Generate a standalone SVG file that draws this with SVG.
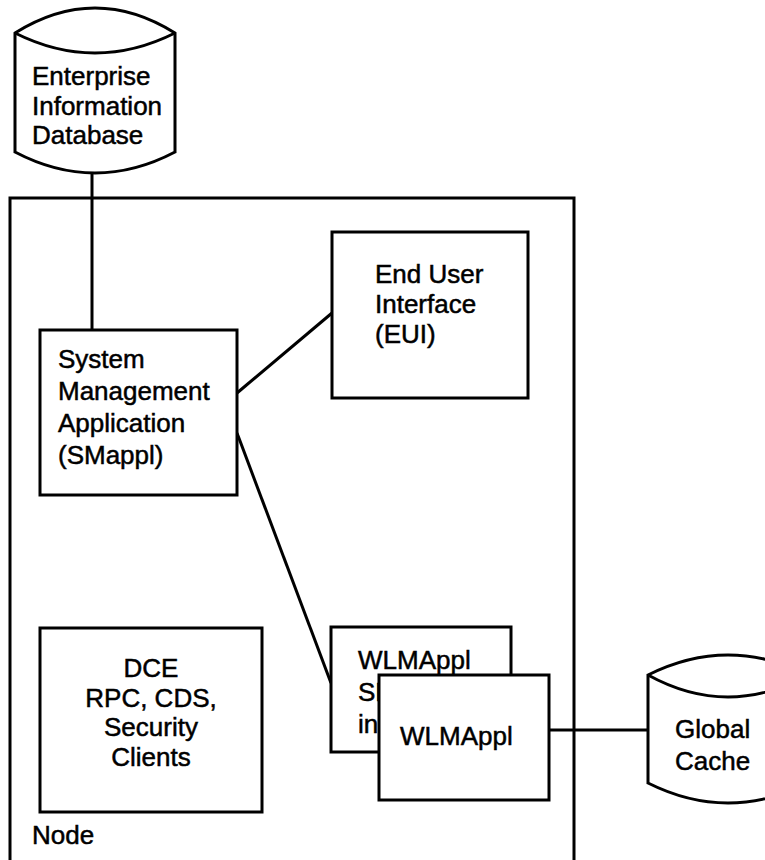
<svg xmlns="http://www.w3.org/2000/svg" width="765" height="860" viewBox="0 0 765 860">
  <style>
    .shape { fill: #ffffff; stroke: #000000; stroke-width: 3; stroke-linejoin: miter; }
    .frame { fill: none; stroke: #000000; stroke-width: 3; }
    .link { fill: none; stroke: #000000; stroke-width: 3; }
    .label { font-family: "Liberation Sans", Arial, Helvetica, sans-serif; font-size: 26px; fill: #000000; stroke: #000000; stroke-width: 0.5; }
    .mid { text-anchor: middle; }
  </style>
  <rect width="765" height="860" fill="#ffffff"/>

  <!-- node boundary, open at the bottom -->
  <g id="node-frame">
    <path class="frame" d="M10,862 V198 H574 V862"/>
    <text class="label" x="32" y="844">Node</text>
  </g>

  <!-- connectors -->
  <g id="connectors">
    <line class="link" x1="92" y1="170" x2="92" y2="330"/>
    <line class="link" x1="237" y1="393" x2="332" y2="313"/>
    <line class="link" x1="237" y1="433" x2="331" y2="683"/>
    <line class="link" x1="549" y1="730" x2="648" y2="730"/>
  </g>

  <g id="enterprise-db">
    <path class="shape" d="M15,33 Q95,-17 175,33 V152 Q95,194 15,152 Z"/>
    <path class="frame" d="M15,33 Q95,73 175,33"/>
    <text class="label" x="32" y="85">Enterprise</text>
    <text class="label" x="32" y="115">Information</text>
    <text class="label" x="32" y="144">Database</text>
  </g>

  <g id="smappl">
    <rect class="shape" x="40" y="330" width="197" height="165"/>
    <text class="label" x="58" y="368">System</text>
    <text class="label" x="58" y="400">Management</text>
    <text class="label" x="58" y="432">Application</text>
    <text class="label" x="58" y="464">(SMappl)</text>
  </g>

  <g id="eui">
    <rect class="shape" x="332" y="232" width="196" height="166"/>
    <text class="label" x="375" y="283">End User</text>
    <text class="label" x="375" y="313">Interface</text>
    <text class="label" x="375" y="343">(EUI)</text>
  </g>

  <g id="dce">
    <rect class="shape" x="40" y="628" width="222" height="184"/>
    <text class="label mid" x="151" y="677">DCE</text>
    <text class="label mid" x="151" y="707">RPC, CDS,</text>
    <text class="label mid" x="151" y="736">Security</text>
    <text class="label mid" x="151" y="766">Clients</text>
  </g>

  <!-- back card, partly hidden by the WLMAppl box in front -->
  <g id="wlmappl-interface">
    <rect class="shape" x="331" y="627" width="180" height="125"/>
    <text class="label" x="358" y="669">WLMAppl</text>
    <text class="label" x="358" y="701">SMappl</text>
    <text class="label" x="358" y="733">in</text>
  </g>

  <g id="wlmappl">
    <rect class="shape" x="379" y="675" width="170" height="125"/>
    <text class="label" x="400" y="745">WLMAppl</text>
  </g>

  <g id="global-cache">
    <path class="shape" d="M648,675 Q728,635 808,675 V783 Q728,823 648,783 Z"/>
    <path class="frame" d="M648,675 Q728,719 808,675"/>
    <text class="label" x="675" y="738">Global</text>
    <text class="label" x="675" y="770">Cache</text>
  </g>
</svg>
